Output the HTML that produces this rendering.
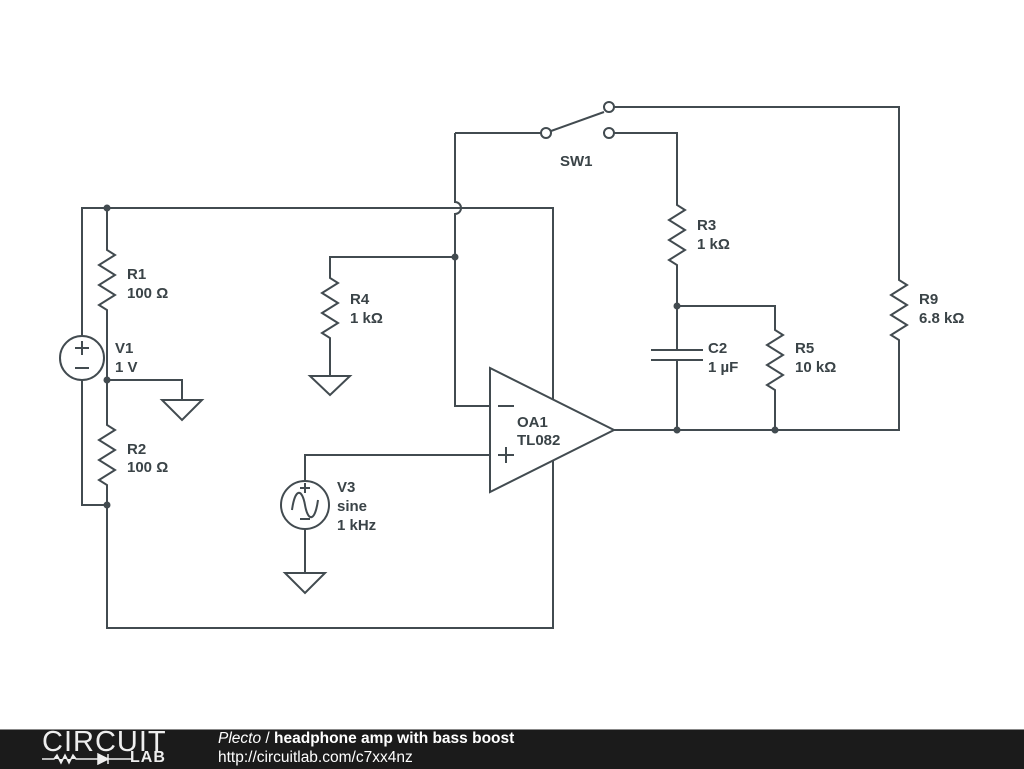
<!DOCTYPE html>
<html><head><style>
body{margin:0;background:#fff;width:1024px;height:768px;overflow:hidden;font-family:"Liberation Sans",sans-serif}
svg text{font-family:"Liberation Sans","DejaVu Sans",sans-serif;font-weight:bold;font-size:15px;fill:#3a4347}
</style></head><body>
<svg width="1024" height="768" viewBox="0 0 1024 768" style="position:absolute;left:0;top:0">
<g stroke="#424b50" stroke-width="2" fill="none">
<path d="M82 336V208H553V628H107V505"/>
<path d="M82 380V505H107"/>
<path d="M107 208V250l8 5-16 10 16 10-16 10 16 10-16 10 8 5V425l8 5-16 10 16 10-16 10 16 10-16 10 8 5V505"/>
<path d="M107 380H182V400"/>
<path d="M162 400H202L182 420Z"/>
<circle cx="82" cy="358" r="22"/>
<path d="M75 348H89M82 341V355M75 368H89"/>
<path d="M455 257H330V278l8 5-16 10 16 10-16 10 16 10-16 10 8 5V376"/>
<path d="M310 376H350L330 395Z"/>
<path d="M455 133H541M455 133V202a6 6 0 0 1 0 12V406H490"/>
<circle cx="546" cy="133" r="5"/>
<path d="M551 131L604 112"/>
<circle cx="609" cy="107" r="5"/>
<circle cx="609" cy="133" r="5"/>
<path d="M614 107H899V280l8 5-16 10 16 10-16 10 16 10-16 10 8 5V430H614"/>
<path d="M614 133H677V205l8 5-16 10 16 10-16 10 16 10-16 10 8 5V350M677 360V430"/>
<path d="M651 350H703M651 360H703"/>
<path d="M677 306H775V330l8 5-16 10 16 10-16 10 16 10-16 10 8 5V430"/>
<path d="M490 368V492L614 430Z" fill="#fff"/>
<path d="M498 406H514M498 455H514M506 447V463"/>
<path d="M490 455H305V481M305 529V573"/>
<circle cx="305" cy="505" r="24"/>
<path d="M292 510C295 488 302 488 305 505S315 522 318 500"/>
<path d="M300 488H310M305 483V493M300 519H310"/>
<path d="M285 573H325L305 593Z"/>
</g>
<g fill="#424b50">
<circle cx="107" cy="208" r="3.5"/><circle cx="107" cy="380" r="3.5"/><circle cx="107" cy="505" r="3.5"/>
<circle cx="455" cy="257" r="3.5"/><circle cx="677" cy="306" r="3.5"/><circle cx="677" cy="430" r="3.5"/><circle cx="775" cy="430" r="3.5"/>
</g>
<text x="560" y="166">SW1</text>
<text x="127" y="279">R1</text><text x="127" y="298">100 Ω</text>
<text x="115" y="353">V1</text><text x="115" y="372">1 V</text>
<text x="127" y="454">R2</text><text x="127" y="472">100 Ω</text>
<text x="350" y="304">R4</text><text x="350" y="323">1 kΩ</text>
<text x="697" y="230">R3</text><text x="697" y="249">1 kΩ</text>
<text x="708" y="353">C2</text><text x="708" y="372">1 µF</text>
<text x="795" y="353">R5</text><text x="795" y="372">10 kΩ</text>
<text x="919" y="304">R9</text><text x="919" y="323">6.8 kΩ</text>
<text x="517" y="427">OA1</text><text x="517" y="445">TL082</text>
<text x="337" y="492">V3</text><text x="337" y="511">sine</text><text x="337" y="530">1 kHz</text>
</svg>
<div style="position:absolute;left:0;top:729px;width:1024px;height:39px;background:#1b1b1b;border-top:1px solid #888"></div>
<div style="position:absolute;left:42px;top:726px;color:#eee;font-size:29px;font-family:'Liberation Sans',sans-serif;letter-spacing:1px">CIRCUIT</div>
<div style="position:absolute;left:130px;top:749px;color:#eee;font-size:16px;font-weight:bold;letter-spacing:1px">LAB</div>
<svg style="position:absolute;left:42px;top:753px" width="90" height="12"><path d="M0 6H12l3-4 4 8 4-8 4 8 4-8 3 4H56M56 1V11M56 1L66 6 56 11ZM66 1V11M66 6H90" stroke="#eee" stroke-width="1.5" fill="#eee"/></svg>
<div style="position:absolute;left:218px;top:730px;color:#fff;font-size:15.5px"><i>Plecto</i> / <b>headphone amp with bass boost</b></div>
<div style="position:absolute;left:218px;top:749px;color:#fff;font-size:15.5px">http://circuitlab.com/c7xx4nz</div>
</body></html>
